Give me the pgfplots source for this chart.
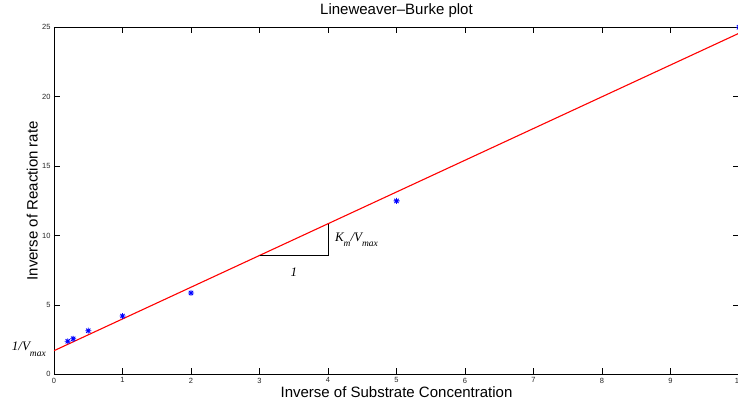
\documentclass[border=0pt]{standalone}
\usepackage{fontspec}
\setmainfont{Liberation Sans}
\newfontfamily\timesfont{Liberation Serif}
\usepackage{pgfplots}
\pgfplotsset{compat=1.18}

% MATLAB-like '*' marker: plus and cross overlaid
\pgfdeclareplotmark{mstar}{%
    \pgfpathmoveto{\pgfqpoint{-\pgfplotmarksize}{0pt}}\pgfpathlineto{\pgfqpoint{\pgfplotmarksize}{0pt}}%
    \pgfpathmoveto{\pgfqpoint{0pt}{-\pgfplotmarksize}}\pgfpathlineto{\pgfqpoint{0pt}{\pgfplotmarksize}}%
    \pgfpathmoveto{\pgfqpoint{-0.707\pgfplotmarksize}{-0.707\pgfplotmarksize}}\pgfpathlineto{\pgfqpoint{0.707\pgfplotmarksize}{0.707\pgfplotmarksize}}%
    \pgfpathmoveto{\pgfqpoint{-0.707\pgfplotmarksize}{0.707\pgfplotmarksize}}\pgfpathlineto{\pgfqpoint{0.707\pgfplotmarksize}{-0.707\pgfplotmarksize}}%
    \pgfusepathqstroke}

\begin{document}
\begin{tikzpicture}
\begin{axis}[%
    ,scale only axis
    ,width=685pt,height=347pt
    ,xmin=0,xmax=10,ymin=0,ymax=25
    ,xtick={0,1,...,10}
    ,ytick={0,5,...,25}
    ,tick align=inside
    ,major tick length=6pt
    ,axis line style={line width=0.8pt}
    ,tick style={black,line width=0.6pt}
    ,clip=false
    ,/pgf/number format/assume math mode=true
    ,tick label style={font=\fontsize{7.5}{8}\selectfont,text=black!85}
    ,title={Lineweaver–Burke plot}
    ,title style={at={(axis description cs:0.5,1.021)},anchor=base,font=\fontsize{15}{18}\selectfont}
    ,xlabel={Inverse of Substrate Concentration}
    ,xlabel style={at={(axis description cs:0.5,-0.0663)},anchor=base,font=\fontsize{15}{18}\selectfont}
    ,ylabel={Inverse of Reaction rate}
    ,ylabel style={at={(axis description cs:-0.024,0.5)},anchor=base,font=\fontsize{15}{18}\selectfont}
    ]
% fitted line
\addplot[red,line width=1.1pt] coordinates {(0,1.70) (10,24.57)};
% measured points
\addplot[blue,only marks,mark=mstar,mark size=3pt,mark options={line width=0.9pt}]
    coordinates {(0.2,2.38) (0.28,2.56) (0.5,3.14) (1,4.2) (2,5.86) (5,12.49) (10,25)};
% slope triangle
\addplot[black,line width=0.6pt] coordinates {(3,8.56) (4,8.56) (4,10.85)};

\node[anchor=base east,inner sep=0pt,xshift=-8pt,font=\timesfont\itshape\fontsize{13}{15}\selectfont]
    at (axis cs:0,1.7) {1/V\raisebox{-5.5pt}{\fontsize{9.5}{11}\selectfont max}};
\node[anchor=base west,inner sep=0pt,font=\timesfont\itshape\fontsize{13}{15}\selectfont]
    at (axis cs:4.10,9.60) {K\raisebox{-5pt}{\fontsize{9.5}{11}\selectfont m}/V\raisebox{-5.5pt}{\fontsize{9.5}{11}\selectfont max}};
\node[anchor=base,inner sep=0pt,font=\timesfont\itshape\fontsize{13}{15}\selectfont]
    at (axis cs:3.5,7.08) {1};
\end{axis}
% crop like the reference: right edge of the box is cut off
\pgfresetboundingbox
\useasboundingbox (-54pt,-31.7pt) rectangle (684pt,374.3pt);
\end{tikzpicture}
\end{document}
